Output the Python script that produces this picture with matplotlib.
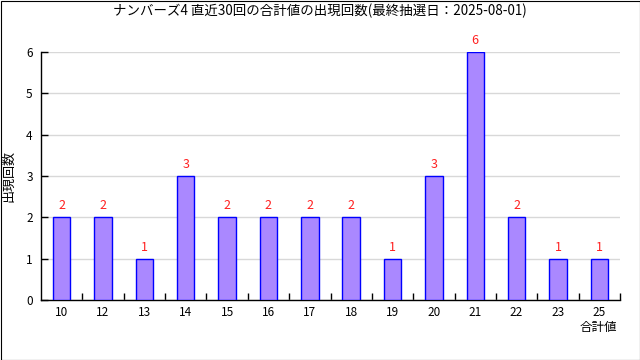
import matplotlib.pyplot as plt
from matplotlib.ticker import FixedLocator

plt.rcParams['font.family'] = ['Noto Sans CJK JP', 'DejaVu Sans']

# 合計値と出現回数
sums = ['10', '12', '13', '14', '15', '16', '17', '18', '19', '20', '21', '22', '23', '25']
counts = [2, 2, 1, 3, 2, 2, 2, 2, 1, 3, 6, 2, 1, 1]

fig = plt.figure(figsize=(6.4, 3.6), dpi=100)
ax = fig.add_axes([41 / 640, 60 / 360, 579 / 640, 248 / 360])

x = range(len(sums))
ax.bar(x, counts, width=0.42, color='#aa88ff', edgecolor='#0000ff', linewidth=1, zorder=3)

for i, c in zip(x, counts):
    ax.text(i, c + 0.12, str(c), color='#ff2020', ha='center', va='bottom',
            fontsize=9, clip_on=False)

ax.set_xlim(-0.5, len(sums) - 0.5)
ax.set_ylim(0, 6)
ax.set_xticks(list(x))
ax.set_xticklabels(sums, fontsize=8.5)
ax.xaxis.set_minor_locator(FixedLocator([i + 0.5 for i in x]))
ax.tick_params(axis='x', which='major', length=0, pad=4)
ax.tick_params(axis='x', which='minor', direction='in', length=5, width=1)
ax.set_yticks(range(0, 7))
ax.tick_params(axis='y', direction='in', length=5, width=1, labelsize=8.5, pad=6)
ax.grid(axis='y', color='#d8d8d8', linewidth=1, zorder=0)

for s in ['top', 'right']:
    ax.spines[s].set_visible(False)
ax.spines['left'].set_linewidth(1)
ax.spines['bottom'].set_linewidth(1)

fig.text(0.5, 1 - 11 / 360, 'ナンバーズ4 直近30回の合計値の出現回数(最終抽選日：2025-08-01)',
         ha='center', va='center', fontsize=9.7)
fig.text(9 / 640, 1 - 176 / 360, '出現回数', rotation=90, ha='center', va='center', fontsize=9.4)
fig.text(598 / 640, 1 - 327 / 360, '合計値', ha='center', va='center', fontsize=9)

# 外枠
fig.patches.append(plt.Rectangle((0.5 / 640, 0.5 / 360), 639 / 640, 359 / 360,
                                 transform=fig.transFigure, fill=False,
                                 edgecolor='black', linewidth=0.8))

plt.savefig('out.png', dpi=100)
